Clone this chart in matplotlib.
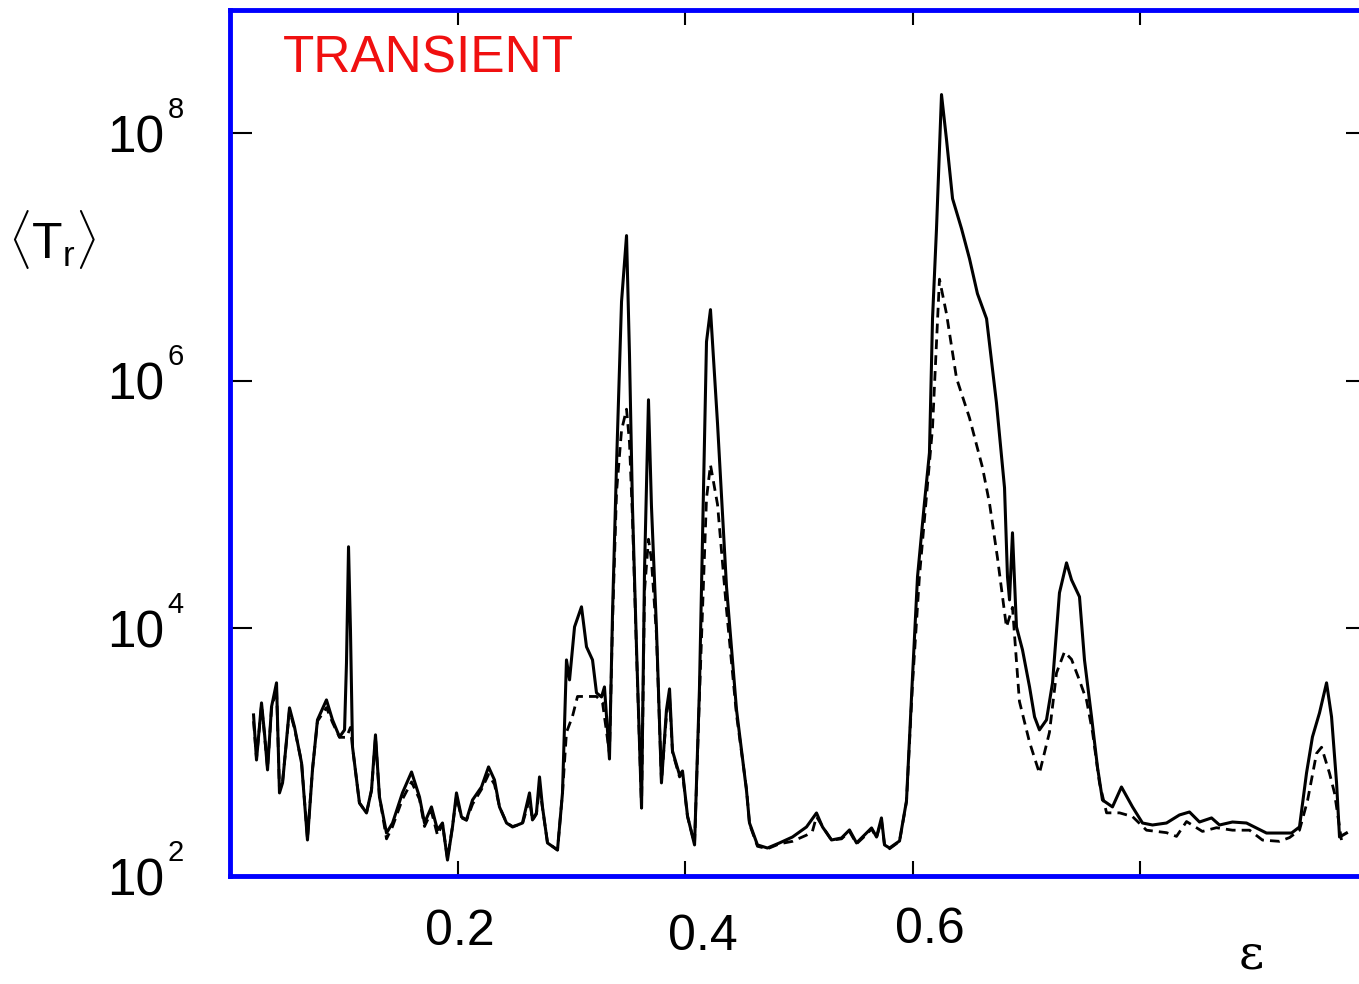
import numpy as np
import matplotlib
matplotlib.use('Agg')
import matplotlib.pyplot as plt
from matplotlib.ticker import NullLocator
from matplotlib.transforms import ScaledTranslation

# epsilon values and log10 <T_r> for the solid curve
eps_solid = [0.0207, 0.0233, 0.0277, 0.0303, 0.0330, 0.0365, 0.0409, 0.0435, 0.0462, 0.0523,
             0.0567, 0.0629, 0.0681, 0.0725, 0.0769, 0.0848, 0.0901, 0.0963, 0.1007, 0.1024,
             0.1042, 0.1059, 0.1077, 0.1138, 0.1200, 0.1244, 0.1279, 0.1314, 0.1376, 0.1429,
             0.1516, 0.1596, 0.1666, 0.1710, 0.1771, 0.1824, 0.1868, 0.1912, 0.1956, 0.1991,
             0.2035, 0.2079, 0.2132, 0.2211, 0.2273, 0.2325, 0.2369, 0.2431, 0.2484, 0.2571,
             0.2633, 0.2659, 0.2694, 0.2721, 0.2747, 0.2791, 0.2879, 0.2923, 0.2958, 0.2985,
             0.3029, 0.3090, 0.3134, 0.3187, 0.3222, 0.3266, 0.3292, 0.3336, 0.3363, 0.3398,
             0.3442, 0.3486, 0.3512, 0.3538, 0.3574, 0.3618, 0.3644, 0.3679, 0.3705, 0.3749,
             0.3793, 0.3837, 0.3864, 0.3890, 0.3952, 0.3978, 0.4022, 0.4084, 0.4127, 0.4189,
             0.4224, 0.4286, 0.4365, 0.4453, 0.4541, 0.4567, 0.4637, 0.4725, 0.4831, 0.4945,
             0.5068, 0.5156, 0.5209, 0.5288, 0.5376, 0.5446, 0.5508, 0.5578, 0.5640, 0.5684,
             0.5727, 0.5754, 0.5798, 0.5886, 0.5947, 0.6000, 0.6044, 0.6105, 0.6149, 0.6176,
             0.6211, 0.6255, 0.6299, 0.6352, 0.6431, 0.6501, 0.6571, 0.6651, 0.6738, 0.6809,
             0.6835, 0.6853, 0.6879, 0.6914, 0.6967, 0.7029, 0.7073, 0.7116, 0.7178, 0.7231,
             0.7292, 0.7354, 0.7398, 0.7468, 0.7512, 0.7574, 0.7626, 0.7670, 0.7758, 0.7837,
             0.7934, 0.8022, 0.8110, 0.8233, 0.8347, 0.8435, 0.8523, 0.8629, 0.8699, 0.8813,
             0.8936, 0.9024, 0.9112, 0.9332, 0.9402, 0.9464, 0.9516, 0.9578, 0.9640, 0.9684,
             0.9728, 0.9754, 0.9815]
logT_solid = [3.301, 2.937, 3.398, 3.156, 2.857, 3.366, 3.560, 2.671, 2.752, 3.358,
              3.204, 2.913, 2.291, 2.857, 3.261, 3.422, 3.261, 3.123, 3.180, 3.721,
              4.659, 3.988, 3.043, 2.590, 2.509, 2.695, 3.140, 2.638, 2.347, 2.428,
              2.671, 2.840, 2.638, 2.428, 2.558, 2.372, 2.428, 2.129, 2.396, 2.671,
              2.477, 2.453, 2.614, 2.719, 2.881, 2.776, 2.558, 2.428, 2.396, 2.428,
              2.671, 2.453, 2.509, 2.800, 2.558, 2.267, 2.210, 2.671, 3.745, 3.584,
              4.012, 4.174, 3.851, 3.745, 3.479, 3.446, 3.527, 2.945, 4.133, 5.321,
              6.638, 7.172, 6.210, 4.990, 3.834, 2.549, 4.465, 5.846, 4.990, 4.004,
              2.752, 3.341, 3.511, 3.010, 2.816, 2.848, 2.485, 2.251, 3.511, 6.315,
              6.574, 5.653, 4.335, 3.341, 2.687, 2.428, 2.251, 2.226, 2.267, 2.315,
              2.396, 2.509, 2.396, 2.291, 2.307, 2.372, 2.267, 2.331, 2.388, 2.315,
              2.469, 2.251, 2.226, 2.283, 2.606, 3.608, 4.416, 5.014, 5.418, 6.501,
              7.228, 8.311, 7.947, 7.471, 7.228, 6.986, 6.703, 6.501, 5.822, 5.135,
              4.416, 4.230, 4.772, 4.012, 3.826, 3.527, 3.285, 3.180, 3.261, 3.560,
              4.287, 4.529, 4.392, 4.255, 3.745, 3.285, 2.881, 2.614, 2.558, 2.719,
              2.558, 2.428, 2.412, 2.428, 2.493, 2.517, 2.436, 2.469, 2.412, 2.436,
              2.428, 2.388, 2.347, 2.347, 2.396, 2.832, 3.123, 3.317, 3.560, 3.285,
              2.752, 2.315, 2.347]

# same quantity for the dashed curve
eps_dashed = [0.0207, 0.0233, 0.0277, 0.0303, 0.0330, 0.0365, 0.0409, 0.0435, 0.0462, 0.0523,
              0.0567, 0.0629, 0.0681, 0.0725, 0.0769, 0.0848, 0.0901, 0.0963, 0.1024, 0.1059,
              0.1077, 0.1138, 0.1200, 0.1244, 0.1279, 0.1314, 0.1376, 0.1429, 0.1516, 0.1596,
              0.1666, 0.1710, 0.1771, 0.1824, 0.1868, 0.1912, 0.1956, 0.1991, 0.2035, 0.2079,
              0.2132, 0.2211, 0.2273, 0.2325, 0.2369, 0.2431, 0.2484, 0.2571, 0.2633, 0.2659,
              0.2694, 0.2721, 0.2747, 0.2791, 0.2879, 0.2923, 0.2958, 0.3011, 0.3055, 0.3134,
              0.3222, 0.3275, 0.3336, 0.3363, 0.3398, 0.3442, 0.3486, 0.3512, 0.3538, 0.3574,
              0.3618, 0.3644, 0.3679, 0.3705, 0.3749, 0.3793, 0.3837, 0.3864, 0.3890, 0.3952,
              0.3978, 0.4022, 0.4084, 0.4127, 0.4189, 0.4224, 0.4286, 0.4365, 0.4453, 0.4541,
              0.4567, 0.4637, 0.4725, 0.4831, 0.4945, 0.5068, 0.5120, 0.5156, 0.5209, 0.5288,
              0.5376, 0.5446, 0.5508, 0.5578, 0.5640, 0.5684, 0.5727, 0.5754, 0.5798, 0.5886,
              0.5947, 0.6000, 0.6061, 0.6176, 0.6237, 0.6299, 0.6387, 0.6501, 0.6615, 0.6677,
              0.6747, 0.6826, 0.6879, 0.6940, 0.7029, 0.7116, 0.7204, 0.7266, 0.7336, 0.7398,
              0.7468, 0.7530, 0.7583, 0.7644, 0.7706, 0.7820, 0.7934, 0.8057, 0.8233, 0.8321,
              0.8409, 0.8549, 0.8672, 0.8813, 0.8963, 0.9077, 0.9226, 0.9314, 0.9402, 0.9473,
              0.9552, 0.9596, 0.9666, 0.9710, 0.9771]
logT_dashed = [3.25, 2.95, 3.38, 3.14, 2.87, 3.35, 3.52, 2.69, 2.76, 3.34,
               3.19, 2.92, 2.30, 2.86, 3.25, 3.36, 3.24, 3.12, 3.12, 3.20,
               3.04, 2.59, 2.51, 2.69, 3.12, 2.64, 2.30, 2.40, 2.62, 2.76,
               2.62, 2.40, 2.52, 2.33, 2.42, 2.14, 2.40, 2.64, 2.47, 2.45,
               2.58, 2.70, 2.82, 2.74, 2.56, 2.43, 2.40, 2.42, 2.62, 2.45,
               2.50, 2.72, 2.55, 2.27, 2.21, 2.67, 3.16, 3.29, 3.45, 3.45,
               3.45, 3.40, 2.99, 4.05, 5.10, 5.60, 5.77, 5.50, 4.90, 3.80,
               2.55, 4.30, 4.72, 4.55, 3.95, 2.76, 3.30, 3.45, 3.00, 2.80,
               2.83, 2.48, 2.26, 3.45, 5.05, 5.32, 5.00, 4.15, 3.30, 2.70,
               2.42, 2.24, 2.22, 2.26, 2.28, 2.33, 2.36, 2.48, 2.40, 2.29,
               2.30, 2.36, 2.26, 2.32, 2.38, 2.31, 2.45, 2.25, 2.22, 2.28,
               2.60, 3.55, 4.42, 5.62, 6.82, 6.54, 6.02, 5.70, 5.30, 5.01,
               4.57, 4.01, 4.17, 3.41, 3.08, 2.83, 3.16, 3.64, 3.81, 3.75,
               3.58, 3.42, 3.16, 2.75, 2.51, 2.51, 2.48, 2.37, 2.35, 2.32,
               2.44, 2.36, 2.39, 2.37, 2.37, 2.29, 2.28, 2.31, 2.37, 2.61,
               2.99, 3.04, 2.83, 2.67, 2.29]

x_ticks = [0.2, 0.4, 0.6, 0.8]
x_tick_labels = ['0.2', '0.4', '0.6', '']
y_exponents = [2, 4, 6, 8]


if __name__ == "__main__":
    plt.rcParams['font.family'] = ['Liberation Sans', 'DejaVu Sans']
    plt.rcParams['mathtext.fontset'] = 'custom'
    plt.rcParams['mathtext.rm'] = 'Liberation Sans'
    plt.rcParams['mathtext.it'] = 'Liberation Sans:italic'

    fig = plt.figure(figsize=(13.59, 9.84), dpi=100)
    ax = fig.add_axes([230 / 1359, 108 / 984, 1137.5 / 1359, 866 / 984])

    ax.plot(eps_solid, 10 ** np.array(logT_solid), color='black', lw=2.2)
    ax.plot(eps_dashed, 10 ** np.array(logT_dashed), color='black', lw=2.0,
            linestyle=(0, (3.5, 2.2)))

    ax.set_yscale('log')
    ax.set_xlim(0, 1)
    ax.set_ylim(1e2, 10 ** 8.994)

    for s in ax.spines.values():
        s.set_color('#0000ff')
        s.set_linewidth(3.5)

    ax.set_xticks(x_ticks)
    ax.set_xticklabels(x_tick_labels)
    ax.set_yticks([10.0 ** e for e in y_exponents])
    ax.set_yticklabels(['10'] * len(y_exponents))
    ax.yaxis.set_minor_locator(NullLocator())
    ax.xaxis.set_minor_locator(NullLocator())
    ax.tick_params(axis='x', direction='in', length=11, width=1.5, top=True,
                   labelsize=36, pad=24)
    ax.tick_params(axis='y', direction='in', length=16, width=1.5, right=True,
                   labelsize=37, pad=47)

    # the x labels sit a little off their ticks
    shifts = [(2, 0), (18, -5), (17, 2), (0, 0)]
    for lab, (dx, dy) in zip(ax.get_xticklabels(), shifts):
        lab.set_transform(lab.get_transform() + ScaledTranslation(dx / 100, dy / 100, fig.dpi_scale_trans))

    # small exponents next to the "10" labels
    for e in y_exponents:
        ax.annotate(str(e), xy=(0, 10.0 ** e), xycoords=('axes fraction', 'data'),
                    xytext=(-45, 11), textcoords='offset points',
                    fontsize=21, ha='left', va='baseline', annotation_clip=False)

    ax.text(0.0466, 0.9284, 'TRANSIENT', transform=ax.transAxes, color='#f01010',
            fontsize=37, va='baseline', ha='left')

    fig.text(52 / 1359, 1 - 240 / 984, r'$\langle \mathrm{T}_{\mathrm{r}} \rangle$',
             fontsize=36, ha='center', va='center')
    fig.text(1251 / 1359, 1 - 955 / 984, 'ε', fontsize=35, family='DejaVu Serif',
             ha='center', va='center')

    fig.savefig('out.png', dpi=100)
